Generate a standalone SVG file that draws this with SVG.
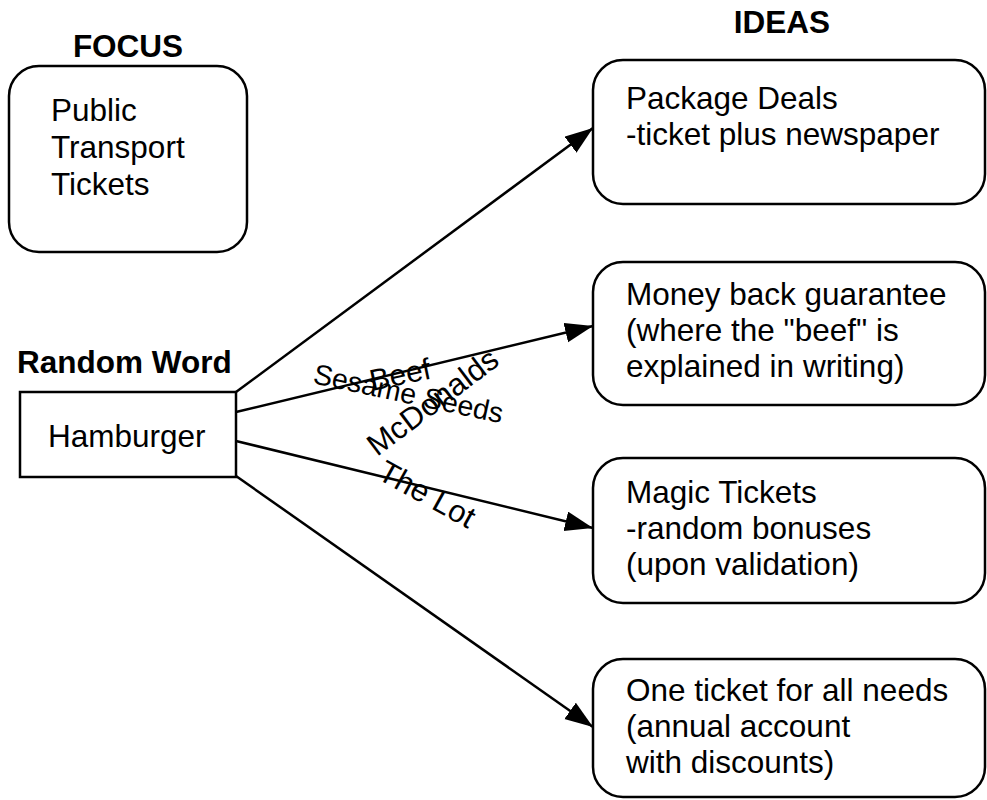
<svg xmlns="http://www.w3.org/2000/svg" width="987" height="800" viewBox="0 0 987 800">
<style>
text{font-family:"Liberation Sans",Arial,sans-serif;fill:#000}
.t{font-size:31.5px}
.b{font-size:31.5px;font-weight:bold}
.lbl{font-size:30px}
.box{fill:#fff;stroke:#000;stroke-width:2.5}
.conn{stroke:#000;stroke-width:2.5;fill:none}
</style>
<defs>
<marker id="arr" markerUnits="userSpaceOnUse" markerWidth="30" markerHeight="22" refX="28" refY="10" orient="auto">
<path d="M0,0 L28,10 L0,20 z" fill="#000"/>
</marker>
</defs>
<rect width="987" height="800" fill="#fff"/>
<g id="focus">
<text class="b" x="128" y="57" text-anchor="middle">FOCUS</text>
<rect class="box" x="9" y="66" width="238" height="186" rx="30" ry="30"/>
<text class="t" x="51" y="121">Public</text>
<text class="t" x="51" y="158">Transport</text>
<text class="t" x="51" y="195">Tickets</text>
</g>
<g id="random-word">
<text class="b" x="17" y="373">Random Word</text>
<rect class="box" x="20" y="392" width="216" height="85"/>
<text class="t" x="48" y="447">Hamburger</text>
</g>
<text id="ideas-title" class="b" x="782" y="33" text-anchor="middle">IDEAS</text>
<g id="idea1">
<rect class="box" x="593" y="60" width="392" height="144" rx="30" ry="30"/>
<text class="t" x="626" y="109">Package Deals</text>
<text class="t" x="626" y="145">-ticket plus newspaper</text>
</g>
<g id="idea2">
<rect class="box" x="593" y="262" width="392" height="143" rx="30" ry="30"/>
<text class="t" x="626" y="305">Money back guarantee</text>
<text class="t" x="626" y="341">(where the "beef" is</text>
<text class="t" x="626" y="377">explained in writing)</text>
</g>
<g id="idea3">
<rect class="box" x="593" y="458" width="392" height="145" rx="30" ry="30"/>
<text class="t" x="626" y="503">Magic Tickets</text>
<text class="t" x="626" y="539">-random bonuses</text>
<text class="t" x="626" y="575">(upon validation)</text>
</g>
<g id="idea4">
<rect class="box" x="593" y="659" width="392" height="138" rx="30" ry="30"/>
<text class="t" x="626" y="701">One ticket for all needs</text>
<text class="t" x="626" y="737">(annual account</text>
<text class="t" x="626" y="773">with discounts)</text>
</g>
<g id="connectors">
<line class="conn" x1="236" y1="392" x2="593" y2="128" marker-end="url(#arr)"/>
<line class="conn" x1="236" y1="412" x2="593" y2="326" marker-end="url(#arr)"/>
<line class="conn" x1="236" y1="441" x2="593" y2="528" marker-end="url(#arr)"/>
<line class="conn" x1="236" y1="476" x2="593" y2="727" marker-end="url(#arr)"/>
<text class="lbl" style="font-size:28.5px" transform="translate(312,383) rotate(12)">Sesame Seeds</text>
<text class="lbl" transform="translate(372,391) rotate(-12)">Beef</text>
<text class="lbl" style="font-size:31px" transform="translate(377,457) rotate(-37)">McDonalds</text>
<text class="lbl" style="font-size:31px" transform="translate(376,478) rotate(29)">The Lot</text>
</g>
</svg>
